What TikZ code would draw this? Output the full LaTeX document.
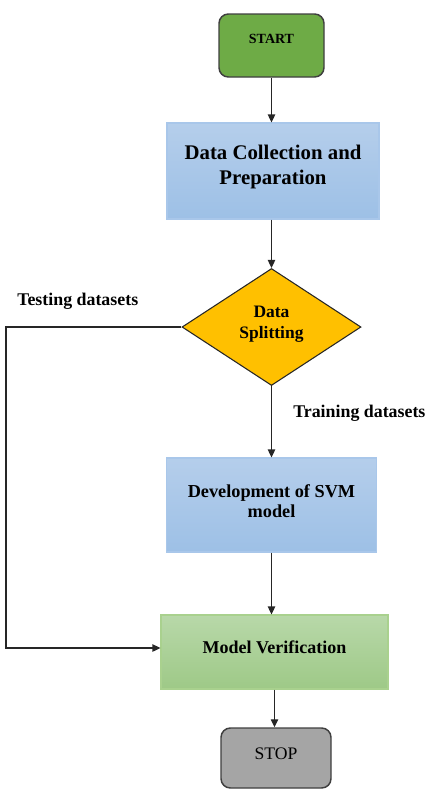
\documentclass[tikz,border=0pt]{standalone}
\usepackage{fontspec}
\setmainfont{Liberation Serif}
\usetikzlibrary{shapes.geometric,arrows.meta}

\definecolor{startfill}{HTML}{6EAB46}
\definecolor{termborder}{HTML}{3F3F3F}
\definecolor{stopfill}{HTML}{A5A5A5}
\definecolor{bluetop}{HTML}{B5CEEB}
\definecolor{bluebot}{HTML}{9DC0E6}
\definecolor{blueedge}{HTML}{A9C7EA}
\definecolor{greentop}{HTML}{B8D8A9}
\definecolor{greenbot}{HTML}{9EC987}
\definecolor{greenedge}{HTML}{A9D18E}
\definecolor{gold}{HTML}{FFC000}
\definecolor{lineclr}{HTML}{262626}

\begin{document}
\begin{tikzpicture}[x=0.75pt,y=-0.75pt,
  terminal/.style={draw=termborder, line width=1.1pt, rounded corners=7pt, inner sep=0pt},
  process/.style={draw=blueedge, line width=0.8pt, top color=bluetop, bottom color=bluebot, inner sep=0pt},
  check/.style={draw=greenedge, line width=0.8pt, top color=greentop, bottom color=greenbot, inner sep=0pt},
  decision/.style={diamond, draw=lineclr, line width=0.8pt, fill=gold, inner sep=0pt},
  txt/.style={inner sep=0pt, align=center, text=black},
  conn/.style={draw=lineclr, line width=1pt, -{Triangle[length=6pt,width=5.5pt]}}
]
\useasboundingbox (0,0) rectangle (431,790);

% shapes
\node[terminal, fill=startfill, minimum width=78.75pt, minimum height=47.25pt] (start) at (271.5,45.5) {};
\node[process, minimum width=159pt, minimum height=72pt] (dcp) at (273,171) {};
\node[decision, minimum width=134.25pt, minimum height=87.75pt] (split) at (271.5,327) {};
\node[process, minimum width=157.5pt, minimum height=70.5pt] (dev) at (271.5,505) {};
\node[check, minimum width=170.25pt, minimum height=55.5pt] (mv) at (274.5,652) {};
\node[terminal, fill=stopfill, minimum width=82.5pt, minimum height=45pt] (stop) at (276,758) {};

% texts inside the shapes
\node[txt, font=\fontsize{10.5}{12}\selectfont\bfseries] (start-text) at (271.5,39) {START};
\node[txt, font=\fontsize{15.6}{18.75}\selectfont\bfseries] (dcp-text) at (273,167) {Data Collection and\\Preparation};
\node[txt, font=\fontsize{13.1}{15.75}\selectfont\bfseries] (split-text) at (271.5,324) {Data\\Splitting};
\node[txt, font=\fontsize{13.7}{15}\selectfont\bfseries] (dev-text) at (271.5,501) {Development of SVM\\model};
\node[txt, font=\fontsize{13.5}{15}\selectfont\bfseries] (mv-text) at (274.5,647.5) {Model Verification};
\node[txt, font=\fontsize{13.2}{15}\selectfont] (stop-text) at (276,754) {STOP};

% branch labels
\node[txt, anchor=base west, font=\fontsize{13.4}{15}\selectfont\bfseries] (test-label) at (17,305) {Testing datasets};
\node[txt, anchor=base west, font=\fontsize{13.4}{15}\selectfont\bfseries] (train-label) at (293,417) {Training datasets};

% connectors
\coordinate (bend) at (6,490);
\draw[conn] (start.south) -- (start.south |- dcp.north);
\draw[conn] (dcp.south -| split.north) -- (split.north);
\draw[conn] (split.south) -- (split.south |- dev.north);
\draw[conn] (dev.south) -- (dev.south |- mv.north);
\draw[conn] (mv.south) -- (mv.south |- stop.north);
\draw[conn] (split.west) -| (bend) |- ([yshift=3pt]mv.west);
\end{tikzpicture}
\end{document}
